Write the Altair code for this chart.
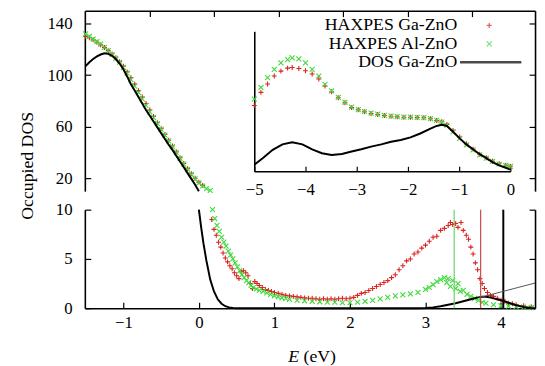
import altair as alt
import pandas as pd

FONT = "Liberation Serif"
SERIES = ["HAXPES Ga-ZnO", "HAXPES Al-ZnO", "DOS Ga-ZnO"]

# ---------------- data ----------------
# upper panel (Occupied DOS, 10..150)
up_ga_E = [-1.50, -1.45, -1.40, -1.35, -1.30, -1.25, -1.20, -1.15, -1.10, -1.05,
           -1.00, -0.95, -0.90, -0.85, -0.80, -0.75, -0.70, -0.65, -0.60, -0.55,
           -0.50, -0.45, -0.40, -0.35, -0.30, -0.25, -0.20, -0.15, -0.10, -0.05,
           0.00, 0.05]
up_ga_v = [130, 129, 127.5, 125.5, 123.5, 121.5, 119, 116.5, 113.5, 110.5,
           107, 102.5, 98, 93, 88, 83, 78, 73, 68, 63,
           58.5, 54, 49.5, 45, 40.5, 36, 31.5, 27.5, 23.5, 20,
           17, 14.5]
up_al_E = [-1.50, -1.45, -1.40, -1.35, -1.30, -1.25, -1.20, -1.15, -1.10, -1.05,
           -1.00, -0.95, -0.90, -0.85, -0.80, -0.75, -0.70, -0.65, -0.60, -0.55,
           -0.50, -0.45, -0.40, -0.35, -0.30, -0.25, -0.20, -0.15, -0.10, -0.05,
           0.00, 0.05, 0.10, 0.15]
up_al_v = [132, 130, 128, 126, 124, 121.5, 119, 116, 113, 110,
           106, 101.5, 96.5, 91.5, 86.5, 81.5, 76.5, 71.5, 67, 62.5,
           58, 53.5, 49, 44.5, 40, 35.5, 31, 27, 23, 19.5,
           16.5, 14, 12, 10.5]
up_dos_E = [-1.50, -1.45, -1.40, -1.35, -1.30, -1.25, -1.20, -1.15, -1.10, -1.05,
            -1.00, -0.95, -0.90, -0.85, -0.80, -0.75, -0.70, -0.65, -0.60, -0.55,
            -0.50, -0.45, -0.40, -0.35, -0.30, -0.25, -0.20, -0.15, -0.10, -0.05,
            0.00]
up_dos_v = [107, 110, 112.5, 114.5, 116, 117, 116.5, 115, 112.5, 109,
            104.5, 99, 93, 88, 83, 78, 73, 68.5, 64, 59.5,
            55, 50.5, 46, 42, 37.5, 33, 28.5, 24, 19.5, 15,
            10]

# lower panel (0..10)
lo_ga_E = [0.17, 0.20, 0.23, 0.26, 0.29, 0.32, 0.35, 0.38, 0.41, 0.44,
           0.47, 0.50, 0.53, 0.56, 0.59, 0.62, 0.65, 0.68, 0.71, 0.74,
           0.77, 0.80, 0.84, 0.88, 0.92, 0.96, 1.00, 1.05, 1.10, 1.15,
           1.20, 1.25, 1.30, 1.35, 1.40, 1.45, 1.50, 1.55, 1.60, 1.65,
           1.70, 1.75, 1.80, 1.85, 1.90, 1.95, 2.00, 2.05, 2.10, 2.15,
           2.20, 2.25, 2.30, 2.35, 2.40, 2.45, 2.50, 2.55, 2.60, 2.65,
           2.70, 2.75, 2.80, 2.85, 2.90, 2.95, 3.00, 3.05, 3.10, 3.15,
           3.20, 3.25, 3.30, 3.33, 3.36, 3.40, 3.43, 3.47, 3.50, 3.54,
           3.57, 3.60, 3.63, 3.66, 3.69, 3.72, 3.75, 3.78, 3.82, 3.86,
           3.90, 3.95, 4.00, 4.05, 4.10, 4.15, 4.20, 4.30, 4.40]
lo_ga_v = [9.0, 8.0, 7.4, 6.7, 6.2, 5.6, 5.1, 4.7, 4.3, 4.0,
           3.6, 3.3, 3.0, 3.7, 3.8, 3.6, 3.3, 2.5, 2.0, 2.7,
           2.5, 2.3, 2.1, 1.9, 1.8, 1.7, 1.6, 1.5, 1.4, 1.3,
           1.25, 1.2, 1.15, 1.1, 1.05, 1.0, 1.0, 0.95, 0.9, 0.95,
           0.9, 0.95, 0.9, 0.95, 1.0, 0.95, 1.0, 1.1, 1.3, 1.5,
           1.6, 1.8, 2.0, 2.2, 2.4, 2.6, 2.8, 3.1, 3.4, 3.9,
           4.3, 4.8, 5.0, 5.5, 5.7, 6.1, 6.4, 6.8, 7.2, 7.3,
           7.9, 8.1, 8.4, 8.7, 8.5, 8.6, 8.2, 8.7, 7.9, 7.4,
           7.0, 6.2, 5.5, 4.6, 3.9, 3.0, 2.5, 2.0, 1.6, 1.3,
           1.2, 1.0, 0.8, 0.7, 0.5, 0.45, 0.35, 0.25, 0.15]
lo_al_E = [0.18, 0.21, 0.24, 0.27, 0.30, 0.33, 0.36, 0.39, 0.42, 0.45,
           0.48, 0.51, 0.54, 0.57, 0.60, 0.63, 0.66, 0.69, 0.72, 0.76,
           0.80, 0.85, 0.90, 0.95, 1.00, 1.05, 1.10, 1.15, 1.20, 1.30,
           1.40, 1.50, 1.60, 1.70, 1.80, 1.90, 2.00, 2.10, 2.20, 2.30,
           2.40, 2.50, 2.60, 2.70, 2.80, 2.90, 3.00, 3.05, 3.10, 3.15,
           3.20, 3.25, 3.28, 3.30, 3.33, 3.36, 3.40, 3.43, 3.46, 3.50,
           3.55, 3.60, 3.65, 3.70, 3.75, 3.80, 3.90, 4.00, 4.10, 4.20,
           4.30, 4.40]
lo_al_v = [10.0, 9.1, 8.4, 7.8, 7.2, 6.7, 6.3, 5.8, 5.4, 5.0,
           4.6, 4.2, 3.8, 3.4, 3.1, 2.8, 2.6, 2.3, 2.1, 1.95,
           1.8, 1.7, 1.55, 1.4, 1.25, 1.15, 1.05, 1.0, 0.9, 0.8,
           0.75, 0.7, 0.65, 0.6, 0.6, 0.55, 0.55, 0.6, 0.7, 0.8,
           0.95, 1.1, 1.25, 1.35, 1.45, 1.6, 1.9, 2.1, 2.4, 2.7,
           2.9, 3.1, 2.6, 3.0, 2.2, 2.8, 2.0, 2.5, 1.7, 1.8,
           1.4, 1.2, 1.0, 0.8, 0.6, 0.5, 0.35, 0.25, 0.2, 0.15,
           0.1, 0.05]
lo_dos_E = [0.00, 0.03, 0.06, 0.10, 0.15, 0.20, 0.25, 0.30, 0.35, 0.40,
            0.45, 0.50, 2.90, 3.00, 3.10, 3.20, 3.30, 3.40, 3.50, 3.60,
            3.70, 3.75, 3.80, 3.85, 3.90, 4.00, 4.10, 4.20, 4.30, 4.40,
            4.45]
lo_dos_v = [10.0, 8.2, 6.6, 4.8, 2.9, 1.7, 0.9, 0.45, 0.2, 0.08,
            0.02, 0.0, 0.0, 0.02, 0.08, 0.2, 0.35, 0.5, 0.7, 0.9,
            1.1, 1.15, 1.15, 1.1, 1.0, 0.8, 0.55, 0.3, 0.12, 0.03,
            0.0]
vline_E = [3.38, 3.73, 4.03]
fit_E = [3.71, 4.45]
fit_v = [1.07, 2.55]

# inset (full valence band, arbitrary units 0..100)
in_E = [-5.00, -4.87, -4.74, -4.61, -4.48, -4.35, -4.26, -4.13, -4.00, -3.87,
        -3.74, -3.62, -3.49, -3.36, -3.23, -3.10, -2.97, -2.85, -2.72, -2.59,
        -2.46, -2.33, -2.21, -2.08, -1.95, -1.82, -1.69, -1.56, -1.44, -1.34,
        -1.24, -1.12, -0.99, -0.86, -0.73, -0.60, -0.47, -0.35, -0.22, -0.09,
        0.00]
in_al_v = [51.6, 59.9, 66.9, 72.8, 77.5, 79.8, 81.0, 80.3, 77.5, 72.8,
           68.1, 62.2, 57.5, 52.8, 49.3, 45.8, 44.1, 42.7, 41.5, 40.8,
           39.9, 39.4, 39.0, 38.7, 38.7, 38.5, 38.3, 37.6, 36.4, 35.2,
           32.9, 28.2, 23.5, 18.8, 15.3, 11.7, 9.4, 7.0, 5.2, 4.2,
           3.5]
in_ga_v = [47.0, 56.4, 62.4, 68.1, 71.6, 73.7, 74.2, 73.5, 71.8, 69.5,
           66.0, 61.0, 56.8, 52.5, 49.0, 45.5, 44.0, 42.5, 41.3, 40.6,
           39.8, 39.3, 38.9, 38.6, 38.6, 38.4, 38.2, 37.5, 36.3, 35.4,
           33.5, 29.2, 24.5, 19.6, 15.8, 12.2, 9.6, 7.2, 5.4, 4.3,
           3.6]
in_dos_E = [-5.00, -4.83, -4.64, -4.45, -4.26, -4.06, -3.87, -3.68, -3.49, -3.29,
            -3.10, -2.91, -2.72, -2.52, -2.33, -2.14, -1.95, -1.76, -1.56, -1.44,
            -1.34, -1.24, -1.12, -0.99, -0.86, -0.73, -0.60, -0.47, -0.35, -0.22,
            0.00]
in_dos_v = [4.7, 9.4, 15.3, 19.2, 20.7, 19.2, 15.7, 12.9, 11.7, 12.4,
            14.1, 15.7, 17.6, 19.2, 21.1, 22.3, 24.2, 27.0, 30.5, 32.4,
            33.3, 32.4, 28.2, 23.5, 19.2, 15.7, 12.2, 9.4, 6.6, 4.2,
            1.2]

# tick values
x_ticks = [-1, 0, 1, 2, 3, 4]
up_ticks = [20, 60, 100, 140]
lo_ticks = [0, 5, 10]
in_ticks = [-5, -4, -3, -2, -1, 0]
top_ticks = [1, 2, 3, 4, 5, 6]

# ---------------- styles ----------------
RED, GREEN = "#d8231f", "#3fd93a"
SERIES_COLORS = [RED, GREEN, "#000000"]
PLUS = "M-1,0L1,0M0,-1L0,1"
CROSS = "M-1,-1L1,1M1,-1L-1,1"
# legend symbols are drawn to the right of their (right-aligned) labels
LEGEND_SHAPES = ["M15.6,0L17.6,0M16.6,-1L16.6,1",
                 "M15.6,-1L17.6,1M17.6,-1L15.6,1",
                 "M5,-0.25L29.4,-0.25L29.4,0.25L5,0.25Z"]
VLINE_COLORS = ["#6ad46a", "#c44a4a", "#000000"]
VLINE_WIDTHS = [1.2, 1.2, 2.0]

W, H = 457, 302


def sc(dom, rng):
    return alt.Scale(domain=dom, range=rng, nice=False, zero=False)


SX = sc([-1.51, 4.45], [0, W])
SYU = sc([10, 150], [183.2, 0])
SYL = sc([0, 10], [H, 202])
SXI = sc([-5, 0], [172, 432])
SYI = sc([0, 100], [163, 21])
SXT = sc([0, 6.97], [0, W])

LEG = alt.Legend(title=None, orient="none", legendX=360, legendY=6, direction="vertical",
                 labelAlign="right", labelOffset=0, symbolOffset=0, labelFont=FONT, labelFontSize=18,
                 labelColor="black", labelLimit=400, rowPadding=0.7, padding=0,
                 symbolSize=25, symbolStrokeWidth=1.3)


def df_of(E, v):
    return pd.DataFrame({"E": E, "v": v})


def points(df, xs, ys, color, shape, xax=None, yax=None):
    return alt.Chart(df).mark_point(filled=False, size=25, opacity=1, strokeWidth=1.1,
                                    color=color, shape=shape).encode(
        x=alt.X("E:Q", scale=xs, axis=xax),
        y=alt.Y("v:Q", scale=ys, axis=yax),
    )


def line(df, xs, ys, color="black", width=2.0, xax=None, yax=None):
    return alt.Chart(df).mark_line(color=color, strokeWidth=width).encode(
        x=alt.X("E:Q", scale=xs, axis=xax),
        y=alt.Y("v:Q", scale=ys, axis=yax),
    )


def carrier(vals, scale, axis):
    # invisible layer that only carries an axis for the given scale
    return alt.Chart(pd.DataFrame({"t": vals})).mark_point(size=0, opacity=0).encode(
        x=alt.X("t:Q", scale=scale, axis=axis), y=alt.value(0))


TICKDASH = [6, 3000]

ax_up_left = alt.Axis(orient="left", values=up_ticks, labelPadding=13, grid=True, gridDash=TICKDASH,
                      title="Occupied DOS", titleX=-58, titleY=157, titleAngle=270,
                      titleAlign="center", titleBaseline="middle")
ax_up_right = alt.Axis(orient="right", values=up_ticks, labels=False, grid=True, gridDash=TICKDASH, title=None)
ax_lo_left = alt.Axis(orient="left", values=lo_ticks, labelPadding=13, grid=True, gridDash=TICKDASH, title=None)
ax_lo_right = alt.Axis(orient="right", values=lo_ticks, labels=False, grid=True, gridDash=TICKDASH, title=None)
ax_bottom = alt.Axis(orient="bottom", values=x_ticks, labelPadding=7, grid=True, gridDash=TICKDASH,
                     title="E", titleFontStyle="italic", titleX=206, titleY=54,
                     titleAlign="left", titleBaseline="alphabetic")
ax_bottom2 = alt.Axis(orient="bottom", values=x_ticks, labels=False, domain=False, grid=False,
                      title="(eV)", titleX=221.5, titleY=54, titleAlign="left", titleBaseline="alphabetic")
ax_inset_x = alt.Axis(orient="bottom", offset=-139, values=in_ticks, labelPadding=11, grid=False,
                      title=None)
# upward-pointing ticks on the inset's bottom axis
ax_inset_ticks = alt.Axis(orient="top", offset=-163, values=in_ticks, labels=False, domain=False,
                          grid=False, ticks=True, tickSize=5, tickWidth=1.2, tickColor="black", title=None)
ax_inset_y = alt.Axis(orient="left", offset=-172, values=[0], labels=False, grid=False, title=None)
ax_top = alt.Axis(orient="top", values=top_ticks, labels=False, grid=True, gridDash=TICKDASH, title=None)

layers = [
    points(df_of(up_ga_E, up_ga_v), SX, SYU, RED, PLUS, None, ax_up_left),
    points(df_of(up_al_E, up_al_v), SX, SYU, GREEN, CROSS, None, ax_up_right),
    line(df_of(up_dos_E, up_dos_v), SX, SYU),
    points(df_of(lo_ga_E, lo_ga_v), SX, SYL, RED, PLUS, None, ax_lo_left),
    points(df_of(lo_al_E, lo_al_v), SX, SYL, GREEN, CROSS, None, ax_lo_right),
    line(df_of(lo_dos_E, lo_dos_v), SX, SYL, xax=ax_bottom2),
]
for e, c, w in zip(vline_E, VLINE_COLORS, VLINE_WIDTHS):
    d = pd.DataFrame({"E": [e], "y0": [0], "y1": [10]})
    layers.append(alt.Chart(d).mark_rule(color=c, strokeWidth=w).encode(
        x=alt.X("E:Q", scale=SX, axis=None),
        y=alt.Y("y0:Q", scale=SYL, axis=None),
        y2="y1:Q",
    ))
layers.append(line(df_of(fit_E, fit_v), SX, SYL, color="#555555", width=1.0))
layers += [
    points(df_of(in_E, in_ga_v), SXI, SYI, RED, PLUS, None, ax_inset_y),
    points(df_of(in_E, in_al_v), SXI, SYI, GREEN, CROSS),
    line(df_of(in_dos_E, in_dos_v), SXI, SYI),
    carrier(x_ticks, SX, ax_bottom),
    carrier(in_ticks, SXI, ax_inset_x),
    carrier(in_ticks, SXI, ax_inset_ticks),
    carrier(top_ticks, SXT, ax_top),
    # legend
    alt.Chart(pd.DataFrame({"series": SERIES})).mark_point(filled=False, size=0, strokeWidth=1.3).encode(
        x=alt.value(0), y=alt.value(0),
        color=alt.Color("series:N", scale=alt.Scale(domain=SERIES, range=SERIES_COLORS), legend=LEG),
        shape=alt.Shape("series:N", scale=alt.Scale(domain=SERIES, range=LEGEND_SHAPES), legend=LEG),
    ),
]

chart = alt.layer(*layers).resolve_scale(x="independent", y="independent").properties(
    width=W, height=H,
    autosize=alt.AutoSizeParams(type="none"),
    padding={"left": 78, "top": 0, "right": 2, "bottom": 58},
).configure_view(stroke="transparent").configure_axis(
    labelFont=FONT, labelFontSize=17, labelColor="black", labelFlush=False, labelOverlap=False,
    ticks=False, tickSize=0, domainColor="black", domainWidth=1.6,
    gridColor="black", gridWidth=1.2, gridOpacity=1,
    titleFont=FONT, titleFontSize=18, titleFontWeight="normal", titleColor="black",
)

chart.save("out.html", embed_options={"renderer": "svg", "actions": False})
